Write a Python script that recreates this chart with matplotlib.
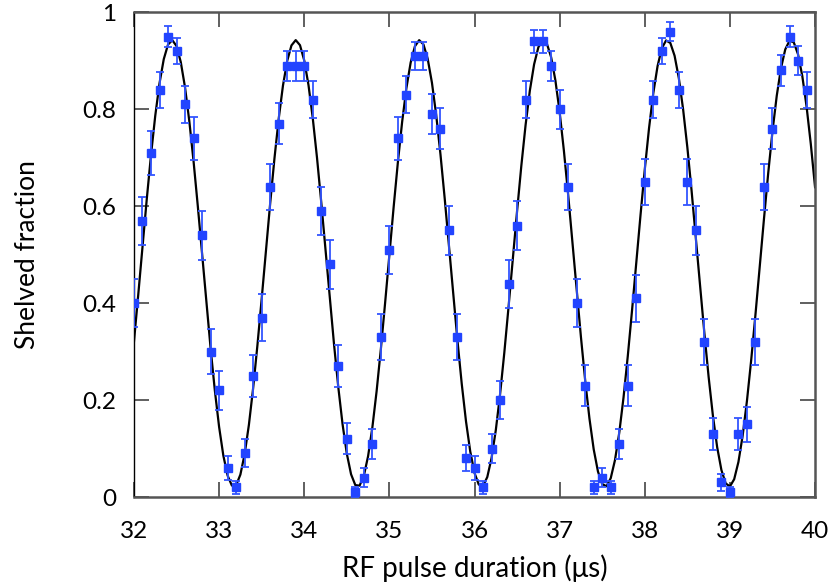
import numpy as np
import matplotlib
matplotlib.use("Agg")
import matplotlib.pyplot as plt

# pulse durations (us) and measured shelved fraction
t_us = [32.0, 32.1, 32.2, 32.3, 32.4, 32.5, 32.6, 32.7, 32.8, 32.9,
        33.0, 33.1, 33.2, 33.3, 33.4, 33.5, 33.6, 33.7, 33.8, 33.9,
        34.0, 34.1, 34.2, 34.3, 34.4, 34.5, 34.6, 34.7, 34.8, 34.9,
        35.0, 35.1, 35.2, 35.3, 35.4, 35.5, 35.6, 35.7, 35.8, 35.9,
        36.0, 36.1, 36.2, 36.3, 36.4, 36.5, 36.6, 36.7, 36.8, 36.9,
        37.0, 37.1, 37.2, 37.3, 37.4, 37.5, 37.6, 37.7, 37.8, 37.9,
        38.0, 38.1, 38.2, 38.3, 38.4, 38.5, 38.6, 38.7, 38.8, 38.9,
        39.0, 39.1, 39.2, 39.3, 39.4, 39.5, 39.6, 39.7, 39.8, 39.9]
shelved = [0.40, 0.57, 0.71, 0.84, 0.95, 0.92, 0.81, 0.74, 0.54, 0.30,
           0.22, 0.06, 0.02, 0.09, 0.25, 0.37, 0.64, 0.77, 0.89, 0.89,
           0.89, 0.82, 0.59, 0.48, 0.27, 0.12, 0.01, 0.04, 0.11, 0.33,
           0.51, 0.74, 0.83, 0.91, 0.91, 0.79, 0.76, 0.55, 0.33, 0.08,
           0.06, 0.02, 0.10, 0.20, 0.44, 0.56, 0.82, 0.94, 0.94, 0.89,
           0.80, 0.64, 0.40, 0.23, 0.02, 0.04, 0.02, 0.11, 0.23, 0.41,
           0.65, 0.82, 0.92, 0.96, 0.84, 0.65, 0.55, 0.32, 0.13, 0.03,
           0.01, 0.13, 0.15, 0.32, 0.64, 0.76, 0.88, 0.95, 0.90, 0.84]
err = [0.049, 0.050, 0.045, 0.037, 0.022, 0.027, 0.039, 0.044, 0.050, 0.046,
       0.041, 0.024, 0.014, 0.029, 0.043, 0.048, 0.048, 0.042, 0.031, 0.031,
       0.031, 0.038, 0.049, 0.050, 0.044, 0.032, 0.010, 0.020, 0.031, 0.047,
       0.050, 0.044, 0.038, 0.029, 0.029, 0.041, 0.043, 0.050, 0.047, 0.027,
       0.024, 0.014, 0.030, 0.040, 0.050, 0.050, 0.038, 0.024, 0.024, 0.031,
       0.040, 0.048, 0.049, 0.042, 0.014, 0.020, 0.014, 0.031, 0.042, 0.049,
       0.048, 0.038, 0.027, 0.020, 0.037, 0.048, 0.050, 0.047, 0.034, 0.017,
       0.010, 0.034, 0.036, 0.047, 0.048, 0.043, 0.032, 0.022, 0.030, 0.037]

t = np.array(t_us)
p = np.array(shelved)

# sinusoidal fit: scan the frequency, linear least squares for the rest
best = None
for f in np.linspace(0.6, 0.8, 4001):
    A = np.column_stack([np.ones_like(t), np.cos(2 * np.pi * f * t), np.sin(2 * np.pi * f * t)])
    coef, *_ = np.linalg.lstsq(A, p, rcond=None)
    res = np.sum(((A @ coef) - p) ** 2)
    if best is None or res < best[0]:
        best = (res, f, coef)
_, f_fit, c_fit = best

t_fit = np.arange(32.0, 40.0001, 0.05)
p_fit = c_fit[0] + c_fit[1] * np.cos(2 * np.pi * f_fit * t_fit) + c_fit[2] * np.sin(2 * np.pi * f_fit * t_fit)

plt.rcParams['font.family'] = ['Lato', 'DejaVu Sans']

fig = plt.figure(figsize=(8.3, 5.87), dpi=100)
ax = fig.add_axes([0.1614, 0.1533, 0.8206, 0.8257])

ax.plot(t_fit, p_fit, color='black', lw=1.6, zorder=2)
ax.errorbar(t, p, yerr=err, fmt='s', color='#2244ff', ecolor='#3355ff',
            ms=6, elinewidth=1.3, capsize=3.2, capthick=1.3, zorder=3)

ax.set_xlim(32, 40)
ax.set_ylim(0, 1)
ax.set_xticks(range(32, 41))
ax.set_yticks([0, 0.2, 0.4, 0.6, 0.8, 1.0])
ax.set_yticklabels(['0', '0.2', '0.4', '0.6', '0.8', '1'])

for side in ['top', 'bottom', 'right']:
    ax.spines[side].set_color('#555555')
    ax.spines[side].set_linewidth(1.8)
ax.spines['left'].set_color('black')
ax.spines['left'].set_linewidth(1.0)

ax.tick_params(direction='in', length=11, width=1.2, color='#444444',
               top=True, right=True, labelsize=17.5, pad=13)
ax.tick_params(axis='x', pad=17)

ax.set_xlabel('RF pulse duration (\u03bcs)', fontsize=20, labelpad=9)
ax.set_ylabel('Shelved fraction', fontsize=19, labelpad=30)

fig.savefig('out.png', dpi=100)
